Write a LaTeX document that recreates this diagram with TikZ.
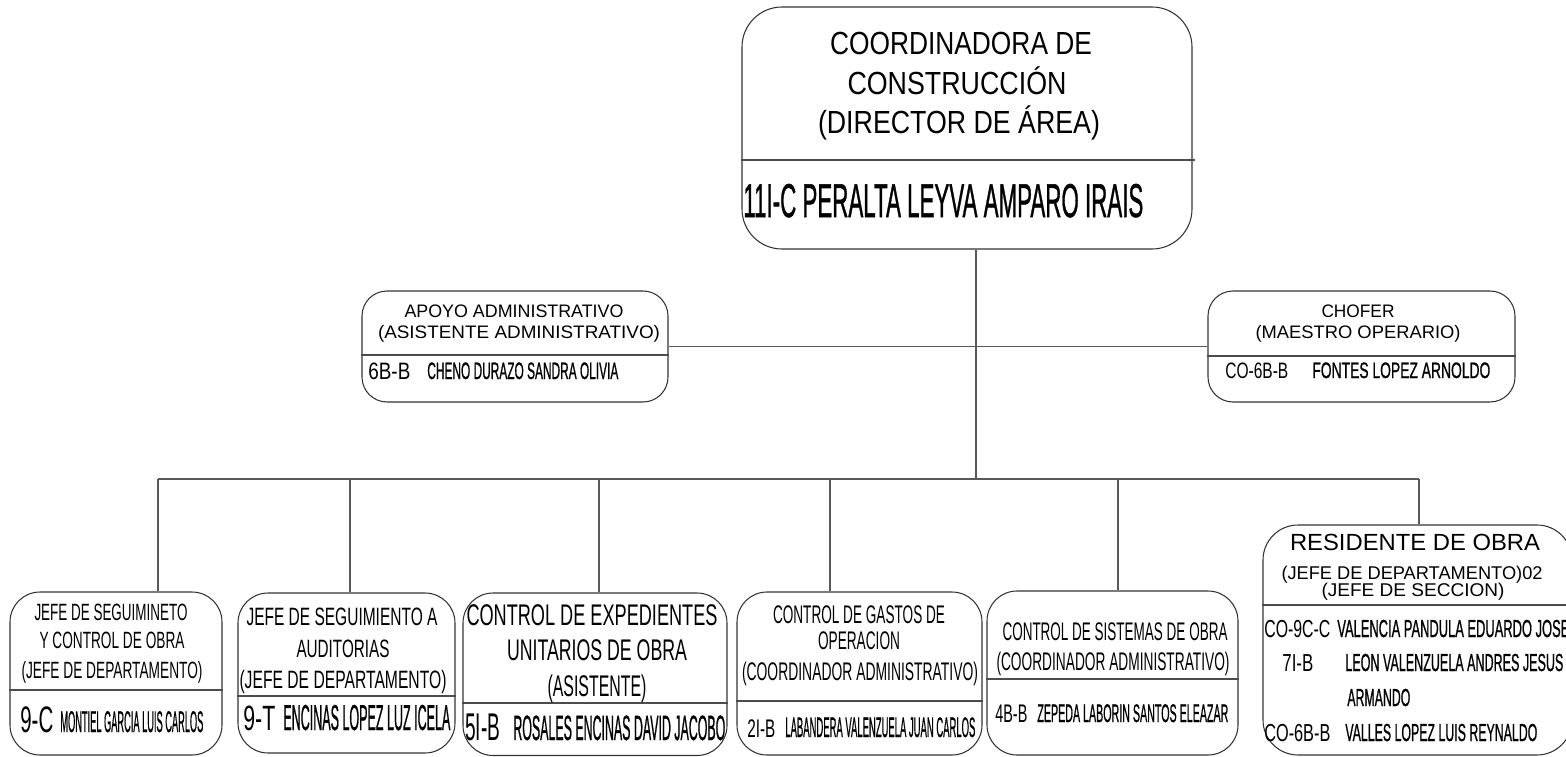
\documentclass[tikz,border=0pt]{standalone}
\usepackage{fontspec}
\setmainfont{Liberation Sans}
\usepackage{graphicx}
\usepackage{tikz}
\usetikzlibrary{fit}
\newlength\pxu
\setlength\pxu{0.02cm}
\newlength\natw
% text squeezed sideways to a given width: width (px), size (pt), text
\newcommand\fw[3]{{\fontsize{#2}{#2}\selectfont
  \settowidth\natw{#3}%
  \pgfmathsetmacro\sqz{#1*\pxu/\natw}%
  \scalebox{\sqz}[1]{#3}}}
% same, a bit heavier for the narrow names
\newcommand\fn[3]{{\fontsize{#2}{#2}\selectfont\addfontfeature{FakeBold=1.2}%
  \settowidth\natw{#3}%
  \pgfmathsetmacro\sqz{#1*\pxu/\natw}%
  \scalebox{\sqz}[1]{#3}}}
\tikzset{
  box/.style={draw=black!80, line width=0.6pt, rounded corners=0.5cm, inner sep=0pt},
  conn/.style={draw=black!65, line width=0.6pt},
  divl/.style={draw=black!70, line width=0.6pt},
  ttl/.style={inner sep=0pt, anchor=base},
  nam/.style={inner sep=0pt, anchor=base west},
}

\begin{document}
\begin{tikzpicture}[x=0.02cm, y=-0.02cm]
	\useasboundingbox (0,0) rectangle (1566,757);
	% boxes
	\node[box, rounded corners=0.8cm, fit={(742,7) (1192,249)}] (coord) {};
	\node[box, fit={(362,291) (668,402)}] (apoyo) {};
	\node[box, fit={(1208,291) (1515,402)}] (chofer) {};
	\node[box, rounded corners=0.6cm, fit={(10,592) (222,755)}] (jsco) {};
	\node[box, rounded corners=0.6cm, fit={(238,593) (455,753)}] (jsa) {};
	\node[box, rounded corners=0.6cm, fit={(463,593) (727,755.5)}] (ceu) {};
	\node[box, rounded corners=0.6cm, fit={(737,592) (982,755)}] (cgo) {};
	\node[box, rounded corners=0.6cm, fit={(987,591) (1238,755)}] (cso) {};
	\node[box, rounded corners=0.7cm, fit={(1263,525) (1572,755)}] (res) {};
	% dividers
	\draw[divl] (coord.west |- 0,160) -- (1195,160);
	\draw[divl] (apoyo.west |- 0,355) -- (apoyo.east |- 0,355);
	\draw[divl] (chofer.west |- 0,356) -- (chofer.east |- 0,356);
	\draw[divl] (jsco.west |- 0,690) -- (jsco.east |- 0,690);
	\draw[divl] (jsa.west |- 0,696) -- (jsa.east |- 0,696);
	\draw[divl] (ceu.west |- 0,703) -- (ceu.east |- 0,703);
	\draw[divl] (cgo.west |- 0,701) -- (cgo.east |- 0,701);
	\draw[divl] (cso.west |- 0,679) -- (cso.east |- 0,679);
	\draw[divl] (res.west |- 0,605) -- (res.east |- 0,605);
	% connectors
	\coordinate (trunk) at (976,479);
	\coordinate (d1) at (158,479);
	\coordinate (d2) at (350,479);
	\coordinate (d3) at (599,479);
	\coordinate (d4) at (830,479);
	\coordinate (d5) at (1118,479);
	\coordinate (d6) at (1419,479);
	\draw[conn] (coord.south -| trunk) -- (trunk);
	\draw[conn] (apoyo.east) -- (chofer.west);
	\draw[conn] (d1) -- (d6);
	\foreach \d/\b in {d1/jsco, d2/jsa, d3/ceu, d4/cgo, d5/cso, d6/res}
		\draw[conn] (\d) -- (\d |- \b.north);
	% coordinadora
	\node[ttl] (coord-a) at (961,55) {\fw{262}{18.2}{COORDINADORA DE}};
	\node[ttl] (coord-b) at (957,95) {\fw{219}{18.2}{CONSTRUCCIÓN}};
	\node[ttl] (coord-c) at (959,133) {\fw{282}{18.2}{(DIRECTOR DE ÁREA)}};
	\node[nam] (coord-n) at (743,217) {\fn{400}{27}{11I-C PERALTA LEYVA AMPARO IRAIS}};
	% apoyo
	\node[ttl] (apoyo-a) at (514,317) {\fw{219}{10.3}{APOYO ADMINISTRATIVO}};
	\node[ttl] (apoyo-b) at (519,338) {\fw{282}{10.3}{(ASISTENTE ADMINISTRATIVO)}};
	\node[nam] (apoyo-c) at (368,379) {\fw{42}{13.5}{6B-B}};
	\node[nam] (apoyo-n) at (427,379) {\fn{191}{13.5}{CHENO DURAZO SANDRA OLIVIA}};
	% chofer
	\node[ttl] (chofer-a) at (1358,317) {\fw{73}{10.3}{CHOFER}};
	\node[ttl] (chofer-b) at (1358,338) {\fw{205}{10.3}{(MAESTRO OPERARIO)}};
	\node[nam] (chofer-c) at (1225,378) {\fw{63}{12.7}{CO-6B-B}};
	\node[nam] (chofer-n) at (1312,378) {\fn{178}{12.7}{FONTES LOPEZ ARNOLDO}};
	% seguimiento y control
	\node[ttl] (jsco-a) at (111,620) {\fw{153}{13.4}{JEFE DE SEGUIMINETO}};
	\node[ttl] (jsco-b) at (112,648) {\fw{145}{13.4}{Y CONTROL DE OBRA}};
	\node[ttl] (jsco-c) at (112,678) {\fw{181}{13.4}{(JEFE DE DEPARTAMENTO)}};
	\node[nam] (jsco-d) at (20,732) {\fw{33}{21}{9-C}};
	\node[nam] (jsco-n) at (60,732) {\fn{143}{17}{MONTIEL GARCIA LUIS CARLOS}};
	% seguimiento a auditorias
	\node[ttl] (jsa-a) at (342,625) {\fw{191}{14.3}{JEFE DE SEGUIMIENTO A}};
	\node[ttl] (jsa-b) at (343,657) {\fw{93}{14.3}{AUDITORIAS}};
	\node[ttl] (jsa-c) at (343,688) {\fw{207}{14.3}{(JEFE DE DEPARTAMENTO)}};
	\node[nam] (jsa-d) at (243,730) {\fw{32}{20}{9-T}};
	\node[nam] (jsa-n) at (283,730) {\fn{167}{20.5}{ENCINAS LOPEZ LUZ ICELA}};
	% expedientes
	\node[ttl] (ceu-a) at (592,625) {\fw{251}{17}{CONTROL DE EXPEDIENTES}};
	\node[ttl] (ceu-b) at (597,660) {\fw{180}{17}{UNITARIOS DE OBRA}};
	\node[ttl] (ceu-c) at (597,696) {\fw{99}{17}{(ASISTENTE)}};
	\node[nam] (ceu-d) at (465,740) {\fw{35}{22}{5I-B}};
	\node[nam] (ceu-n) at (513,740) {\fn{212}{20}{ROSALES ENCINAS DAVID JACOBO}};
	% gastos
	\node[ttl] (cgo-a) at (859,623) {\fw{172}{14.5}{CONTROL DE GASTOS DE}};
	\node[ttl] (cgo-b) at (859,649) {\fw{82}{14.5}{OPERACION}};
	\node[ttl] (cgo-c) at (860,680) {\fw{236}{14.5}{(COORDINADOR ADMINISTRATIVO)}};
	\node[nam] (cgo-d) at (747,737) {\fw{28}{14.5}{2I-B}};
	\node[nam] (cgo-n) at (785,737) {\fn{190}{16}{LABANDERA VALENZUELA JUAN CARLOS}};
	% sistemas
	\node[ttl] (cso-a) at (1115,640) {\fw{225}{14.5}{CONTROL DE SISTEMAS DE OBRA}};
	\node[ttl] (cso-b) at (1113,670) {\fw{233}{14.5}{(COORDINADOR ADMINISTRATIVO)}};
	\node[nam] (cso-d) at (995,722) {\fw{32}{14.5}{4B-B}};
	\node[nam] (cso-n) at (1037,722) {\fn{191}{14.5}{ZEPEDA LABORIN SANTOS ELEAZAR}};
	% residente
	\node[ttl] (res-a) at (1415,550) {\fw{250}{13.3}{RESIDENTE DE OBRA}};
	\node[ttl] (res-b) at (1412,579) {\fw{261}{10.5}{(JEFE DE DEPARTAMENTO)02}};
	\node[ttl] (res-c) at (1413,596) {\fw{183}{10.5}{(JEFE DE SECCION)}};
	\node[nam] (res-d1) at (1264,637) {\fw{66}{14}{CO-9C-C}};
	\node[nam] (res-n1) at (1337,637) {\fn{232}{14}{VALENCIA PANDULA EDUARDO JOSE}};
	\node[nam] (res-d2) at (1282,671) {\fw{31}{14}{7I-B}};
	\node[nam] (res-n2) at (1345,671) {\fn{218}{14}{LEON VALENZUELA ANDRES JESUS}};
	\node[nam] (res-n3) at (1347,706) {\fn{63}{14}{ARMANDO}};
	\node[nam] (res-d3) at (1264,741) {\fw{66}{14}{CO-6B-B}};
	\node[nam] (res-n4) at (1345,741) {\fn{192}{14}{VALLES LOPEZ LUIS REYNALDO}};
\end{tikzpicture}
\end{document}
